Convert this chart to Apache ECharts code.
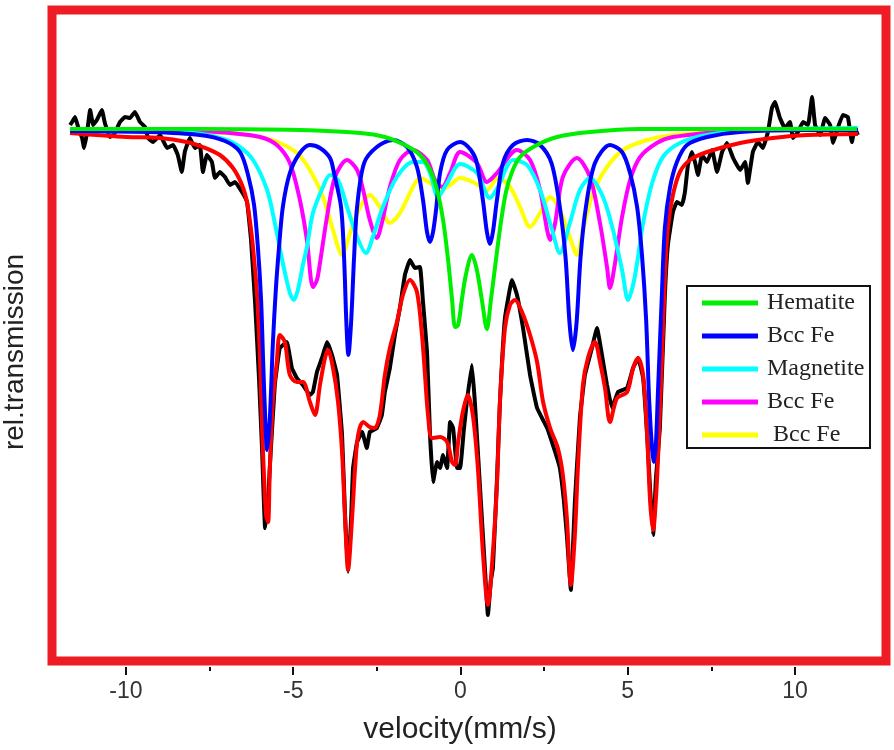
<!DOCTYPE html>
<html>
<head>
<meta charset="utf-8">
<title>Mossbauer spectrum</title>
<script src="https://cdn.jsdelivr.net/npm/echarts@6/dist/echarts.min.js"></script>
<style>
  html, body { margin: 0; padding: 0; background: #fff; }
  #chart { width: 894px; height: 750px; }
</style>
</head>
<body>
<div id="chart"></div>
<script>
// tick labels of the velocity axis
const majorTicks = [-10, -5, 0, 5, 10]
const minorTicks = [-7.5, -2.5, 2.5, 7.5]

// measured spectrum [velocity mm/s, rel. transmission %]
const measured = [
  [-11.67,100.10],[-11.61,100.16],[-11.52,100.26],[-11.43,100.06],[-11.31,99.84],[-11.25,99.64],
  [-11.16,99.96],[-11.07,100.40],[-10.98,100.10],[-10.87,100.20],[-10.72,100.40],[-10.63,100.14],
  [-10.48,99.86],[-10.33,99.94],[-10.18,100.16],[-10.03,100.26],[-9.88,100.24],[-9.73,100.36],
  [-9.58,100.16],[-9.43,100.06],[-9.34,99.84],[-9.19,99.76],[-8.98,99.90],[-8.77,99.64],
  [-8.59,99.70],[-8.45,99.50],[-8.33,99.16],[-8.24,99.56],[-8.09,99.84],[-7.94,99.64],
  [-7.79,99.70],[-7.70,99.16],[-7.58,99.50],[-7.43,99.36],[-7.34,99.04],[-7.19,99.16],
  [-7.04,99.06],[-6.89,98.90],[-6.74,98.96],[-6.53,98.76],[-6.38,98.56],[-6.26,97.80],
  [-6.14,96.56],[-6.02,95.00],[-5.93,93.60],[-5.84,92.04],[-5.75,92.60],[-5.70,93.24],
  [-5.55,94.90],[-5.40,95.64],[-5.19,95.76],[-5.04,95.24],[-4.89,95.04],[-4.71,94.90],
  [-4.50,94.70],[-4.41,94.76],[-4.29,95.16],[-4.14,95.44],[-3.99,95.76],[-3.84,95.50],
  [-3.69,95.10],[-3.54,93.90],[-3.45,92.30],[-3.36,91.16],[-3.27,92.20],[-3.21,93.24],
  [-3.09,93.76],[-2.94,93.96],[-2.80,93.64],[-2.71,93.96],[-2.50,94.04],[-2.35,94.30],
  [-2.26,94.76],[-2.11,95.24],[-1.96,95.90],[-1.81,96.44],[-1.66,97.10],[-1.51,97.40],
  [-1.36,97.24],[-1.21,97.26],[-1.12,96.56],[-1.00,95.56],[-0.91,93.90],[-0.82,92.96],
  [-0.70,93.36],[-0.61,93.24],[-0.52,93.50],[-0.40,93.24],[-0.31,94.16],[-0.22,94.04],
  [-0.10,93.24],[-0.01,93.24],[0.10,94.00],[0.19,94.56],[0.34,95.30],[0.43,94.56],
  [0.58,92.90],[0.73,91.24],[0.82,90.30],[0.91,91.00],[0.97,91.24],[1.09,93.00],
  [1.18,94.56],[1.33,96.24],[1.54,97.00],[1.69,96.70],[1.87,96.04],[2.08,95.10],
  [2.29,94.44],[2.59,94.04],[2.83,93.56],[2.97,93.24],[3.09,92.60],[3.18,91.90],
  [3.30,90.80],[3.42,92.56],[3.57,94.24],[3.72,95.10],[3.93,95.64],[4.08,96.04],
  [4.23,95.50],[4.38,94.90],[4.53,94.44],[4.71,94.76],[4.98,94.84],[5.16,95.24],
  [5.31,95.44],[5.46,95.04],[5.58,93.90],[5.67,92.80],[5.76,91.90],[5.84,93.00],
  [5.96,94.04],[6.11,96.70],[6.20,97.70],[6.35,98.36],[6.47,98.56],[6.62,98.50],
  [6.71,98.76],[6.80,99.30],[6.92,99.56],[7.01,99.36],[7.10,99.10],[7.22,99.50],
  [7.37,99.36],[7.52,99.60],[7.67,99.16],[7.82,99.56],[7.97,99.74],[8.15,99.44],
  [8.36,99.20],[8.51,99.36],[8.59,98.94],[8.74,99.56],[8.89,99.76],[9.04,99.64],
  [9.19,99.96],[9.31,100.44],[9.40,100.56],[9.55,100.24],[9.70,100.04],[9.85,100.16],
  [9.94,99.84],[10.09,99.96],[10.24,100.16],[10.39,100.10],[10.51,100.66],[10.60,100.10],
  [10.75,99.90],[10.90,100.24],[11.05,100.10],[11.14,99.74],[11.28,100.04],[11.43,100.30],
  [11.58,100.26],[11.70,99.76],[11.79,100.04],[11.88,99.90]
]

// total fit
const fitted = [
  [-11.67,99.94],[-9.97,99.86],[-8.98,99.84],[-8.18,99.76],[-7.70,99.66],[-7.19,99.50],
  [-6.80,99.24],[-6.53,98.90],[-6.38,98.56],[-6.29,98.16],[-6.20,97.64],[-6.08,96.70],
  [-5.99,95.36],[-5.93,94.04],[-5.87,93.04],[-5.81,92.30],[-5.75,92.16],[-5.70,93.20],
  [-5.61,94.56],[-5.49,95.36],[-5.40,95.90],[-5.25,95.76],[-5.10,95.10],[-4.89,94.96],
  [-4.71,94.96],[-4.50,94.56],[-4.35,94.30],[-4.20,94.90],[-4.05,95.44],[-3.96,95.60],
  [-3.81,95.24],[-3.66,94.56],[-3.54,93.56],[-3.45,92.24],[-3.36,91.20],[-3.24,92.24],
  [-3.15,93.24],[-3.06,93.90],[-2.91,94.16],[-2.71,94.06],[-2.56,94.04],[-2.41,94.30],
  [-2.26,95.10],[-2.11,95.64],[-1.90,96.16],[-1.72,96.70],[-1.51,97.00],[-1.30,96.76],
  [-1.15,95.90],[-1.06,95.10],[-0.97,94.30],[-0.85,93.84],[-0.61,93.86],[-0.40,93.76],
  [-0.25,93.36],[-0.16,93.30],[-0.07,93.76],[0.07,94.36],[0.22,94.70],[0.37,94.30],
  [0.52,93.24],[0.67,91.56],[0.82,90.50],[0.97,91.56],[1.09,92.90],[1.18,94.56],
  [1.33,96.04],[1.48,96.50],[1.63,96.60],[1.84,96.36],[2.08,95.90],[2.29,95.36],
  [2.47,94.56],[2.68,94.04],[2.91,93.64],[3.06,93.10],[3.18,92.24],[3.30,90.90],
  [3.42,91.90],[3.51,93.24],[3.66,94.90],[3.81,95.44],[4.02,95.76],[4.17,95.36],
  [4.32,94.84],[4.47,94.16],[4.68,94.64],[4.98,94.76],[5.16,95.24],[5.31,95.44],
  [5.46,95.10],[5.58,93.90],[5.67,92.56],[5.76,92.00],[5.84,92.60],[5.90,93.36],
  [6.02,95.36],[6.11,97.04],[6.20,98.04],[6.35,98.70],[6.56,99.16],[6.86,99.40],
  [7.37,99.56],[8.36,99.74],[9.34,99.84],[10.36,99.90],[11.88,99.92]
]

// Hematite doublet
const hematite = [
  [-11.67,100.02],[-7.79,100.02],[-4.80,100.00],[-3.00,99.94],[-2.26,99.86],[-1.66,99.70],
  [-1.21,99.50],[-0.91,99.20],[-0.70,98.80],[-0.52,98.20],[-0.37,97.40],[-0.25,96.60],
  [-0.16,96.06],[-0.07,96.10],[0.04,96.60],[0.16,97.10],[0.34,97.50],[0.49,97.20],
  [0.64,96.60],[0.79,96.02],[0.91,96.60],[1.06,97.40],[1.21,98.16],[1.36,98.76],
  [1.54,99.16],[1.78,99.46],[2.23,99.68],[2.89,99.86],[3.87,99.96],[5.37,100.02],[11.85,100.02]
]

// Bcc Fe sextet (blue)
const bccFe1 = [
  [-11.67,99.98],[-9.28,99.96],[-7.79,99.90],[-7.04,99.78],[-6.59,99.56],[-6.35,99.10],
  [-6.17,98.50],[-6.05,97.60],[-5.96,96.60],[-5.90,95.40],[-5.84,94.30],[-5.78,93.60],
  [-5.70,94.20],[-5.61,95.70],[-5.52,96.80],[-5.43,97.60],[-5.31,98.46],[-5.10,99.14],
  [-4.80,99.54],[-4.50,99.70],[-4.20,99.64],[-3.90,99.44],[-3.78,99.14],[-3.57,98.46],
  [-3.48,97.46],[-3.41,96.14],[-3.35,95.50],[-3.27,96.14],[-3.18,97.46],[-3.09,98.46],
  [-2.88,99.34],[-2.50,99.66],[-2.02,99.80],[-1.60,99.66],[-1.30,99.26],[-1.12,98.60],
  [-1.00,97.96],[-0.91,97.76],[-0.82,97.96],[-0.73,98.40],[-0.61,99.14],[-0.40,99.60],
  [-0.01,99.76],[0.31,99.60],[0.49,99.34],[0.67,98.60],[0.79,97.96],[0.88,97.72],
  [0.97,97.96],[1.09,98.60],[1.27,99.34],[1.57,99.70],[1.99,99.80],[2.38,99.70],
  [2.72,99.34],[2.97,98.46],[3.14,97.46],[3.26,96.14],[3.36,95.60],[3.47,96.14],
  [3.59,97.46],[3.75,98.46],[4.02,99.34],[4.47,99.70],[4.83,99.56],[5.07,99.14],
  [5.28,98.46],[5.43,97.46],[5.55,96.20],[5.64,94.60],[5.73,93.60],[5.78,93.36],
  [5.84,93.70],[5.90,94.70],[6.02,96.70],[6.11,98.04],[6.26,98.84],[6.47,99.36],
  [6.77,99.70],[7.37,99.86],[8.36,99.96],[10.36,100.00],[11.88,100.00]
]

// Magnetite sextet (cyan)
const magnetite = [
  [-11.67,99.98],[-8.00,99.94],[-7.19,99.84],[-6.68,99.70],[-6.20,99.40],[-5.78,98.80],
  [-5.55,98.14],[-5.31,97.34],[-5.10,96.74],[-4.98,96.60],[-4.86,96.80],[-4.71,97.30],
  [-4.59,97.66],[-4.41,98.34],[-4.11,98.86],[-3.90,99.10],[-3.66,99.00],[-3.39,98.46],
  [-3.09,97.86],[-2.82,97.54],[-2.62,97.86],[-2.32,98.46],[-1.90,99.06],[-1.42,99.36],
  [-1.12,99.36],[-0.91,99.14],[-0.67,98.66],[-0.40,98.94],[-0.01,99.32],[0.49,99.14],
  [0.88,98.64],[1.12,98.86],[1.57,99.40],[1.99,99.30],[2.38,98.80],[2.74,98.00],
  [2.97,97.54],[3.27,98.14],[3.57,98.80],[3.87,99.04],[4.26,98.66],[4.56,98.00],
  [4.83,97.20],[5.01,96.60],[5.16,96.90],[5.28,97.34],[5.46,98.14],[5.73,98.94],
  [6.05,99.46],[6.56,99.74],[7.37,99.90],[8.86,100.00],[11.88,100.04]
]

// Bcc Fe sextet (magenta)
const bccFe2 = [
  [-8.66,100.02],[-6.89,99.94],[-5.99,99.86],[-5.49,99.70],[-5.10,99.34],[-4.80,98.60],
  [-4.59,97.80],[-4.41,96.86],[-4.29,97.00],[-4.20,97.34],[-3.99,98.26],[-3.75,99.06],
  [-3.39,99.40],[-3.09,99.20],[-2.91,98.80],[-2.71,98.20],[-2.50,97.84],[-2.35,98.14],
  [-2.11,98.86],[-1.81,99.40],[-1.42,99.60],[-1.00,99.40],[-0.76,99.00],[-0.55,98.86],
  [-0.31,99.14],[-0.01,99.56],[0.49,99.34],[0.79,98.96],[1.09,99.14],[1.69,99.60],
  [2.08,99.40],[2.38,98.80],[2.59,98.00],[2.68,97.80],[2.83,98.14],[3.06,99.06],
  [3.48,99.44],[3.87,99.06],[4.17,98.14],[4.38,97.26],[4.47,96.84],[4.62,97.34],
  [4.83,98.26],[5.07,99.00],[5.37,99.46],[5.87,99.74],[6.35,99.86],[8.65,100.02]
]

// Bcc Fe sextet (yellow)
const bccFe3 = [
  [-11.67,100.00],[-6.98,99.94],[-5.99,99.86],[-5.40,99.74],[-4.89,99.54],[-4.50,99.20],
  [-4.11,98.66],[-3.81,98.00],[-3.54,97.50],[-3.30,97.94],[-3.00,98.46],[-2.71,98.70],
  [-2.41,98.46],[-2.11,98.14],[-1.81,98.34],[-1.42,98.86],[-1.21,99.04],[-0.91,98.94],
  [-0.61,98.80],[-0.31,98.90],[-0.01,99.04],[0.37,98.96],[0.79,98.80],[1.12,99.04],
  [1.48,98.86],[1.78,98.46],[2.08,98.06],[2.38,98.34],[2.68,98.66],[2.97,98.40],
  [3.27,97.86],[3.48,97.50],[3.66,98.00],[3.96,98.74],[4.38,99.26],[4.86,99.60],
  [5.58,99.80],[6.35,99.90],[8.36,99.98],[11.88,100.02]
]

const legendNames = ['Hematite', 'Bcc Fe', 'Magnetite', 'Bcc Fe ', ' Bcc Fe']

const chart = echarts.init(document.getElementById('chart'))

function curve(name, data, color, smooth) {
  return {
    name: name,
    type: 'line',
    data: data,
    showSymbol: false,
    smooth: smooth,
    lineStyle: { color: color, width: 4 },
    itemStyle: { color: color },
    emphasis: { disabled: true }
  }
}

// one axis for the labels, one per tick length, all stacked under the red frame
function velocityAxis(extra) {
  return Object.assign({
    type: 'value',
    position: 'bottom',
    min: -12.21,
    max: 12.72,
    offset: 6,
    axisLine: { show: false },
    splitLine: { show: false }
  }, extra)
}

function tickOnly(values, len) {
  // empty label list, otherwise the hidden default labels swallow the ticks
  return velocityAxis({
    axisTick: { show: true, customValues: values, length: len, lineStyle: { color: '#111', width: 2 } },
    axisLabel: { show: false, customValues: [] }
  })
}

const option = {
  backgroundColor: '#fff',
  animation: false,
  grid: {
    left: 52,
    right: 8,
    top: 10,
    bottom: 89,
    show: true,
    borderColor: '#ee1c24',
    borderWidth: 9
  },
  xAxis: [
    velocityAxis({
      axisTick: { show: false },
      axisLabel: {
        customValues: majorTicks,
        fontFamily: 'Liberation Sans',
        fontSize: 23,
        color: '#333',
        margin: 13
      }
    }),
    tickOnly(majorTicks, 8),
    tickOnly(minorTicks, 4)
  ],
  yAxis: {
    type: 'value',
    min: 89.38,
    max: 102.4,
    show: false
  },
  legend: {
    data: legendNames,
    orient: 'vertical',
    left: 702,
    top: 291,
    padding: 0,
    itemWidth: 56,
    itemHeight: 5,
    itemGap: 9,
    icon: 'rect',
    selectedMode: false,
    z: 10,
    textStyle: {
      fontFamily: 'Liberation Serif',
      fontSize: 24,
      lineHeight: 24,
      color: '#222',
      padding: [0, 0, 0, 4]
    }
  },
  graphic: [
    {
      type: 'rect',
      z: 3,
      shape: { x: 687, y: 286, width: 183, height: 162 },
      style: { fill: '#fff', stroke: '#111', lineWidth: 2 }
    },
    {
      type: 'text',
      x: 460,
      y: 730,
      style: {
        text: 'velocity(mm/s)',
        fontFamily: 'Liberation Sans',
        fontSize: 30,
        fill: '#222',
        align: 'center',
        verticalAlign: 'middle'
      }
    },
    {
      type: 'text',
      x: 15,
      y: 352,
      rotation: Math.PI / 2,
      style: {
        text: 'rel.transmission',
        fontFamily: 'Liberation Sans',
        fontSize: 28,
        fill: '#222',
        align: 'center',
        verticalAlign: 'middle'
      }
    }
  ],
  series: [
    curve('measured', measured, '#000000', 0.1),
    curve('fit', fitted, '#ff0000', 0.3),
    curve(' Bcc Fe', bccFe3, '#ffff00', 0.3),
    curve('Bcc Fe ', bccFe2, '#ff00ff', 0.3),
    curve('Magnetite', magnetite, '#00ffff', 0.3),
    curve('Bcc Fe', bccFe1, '#0000ff', 0.3),
    curve('Hematite', hematite, '#00ee00', 0.3)
  ]
}

chart.setOption(option)
window.addEventListener('resize', () => chart.resize())
</script>
</body>
</html>
